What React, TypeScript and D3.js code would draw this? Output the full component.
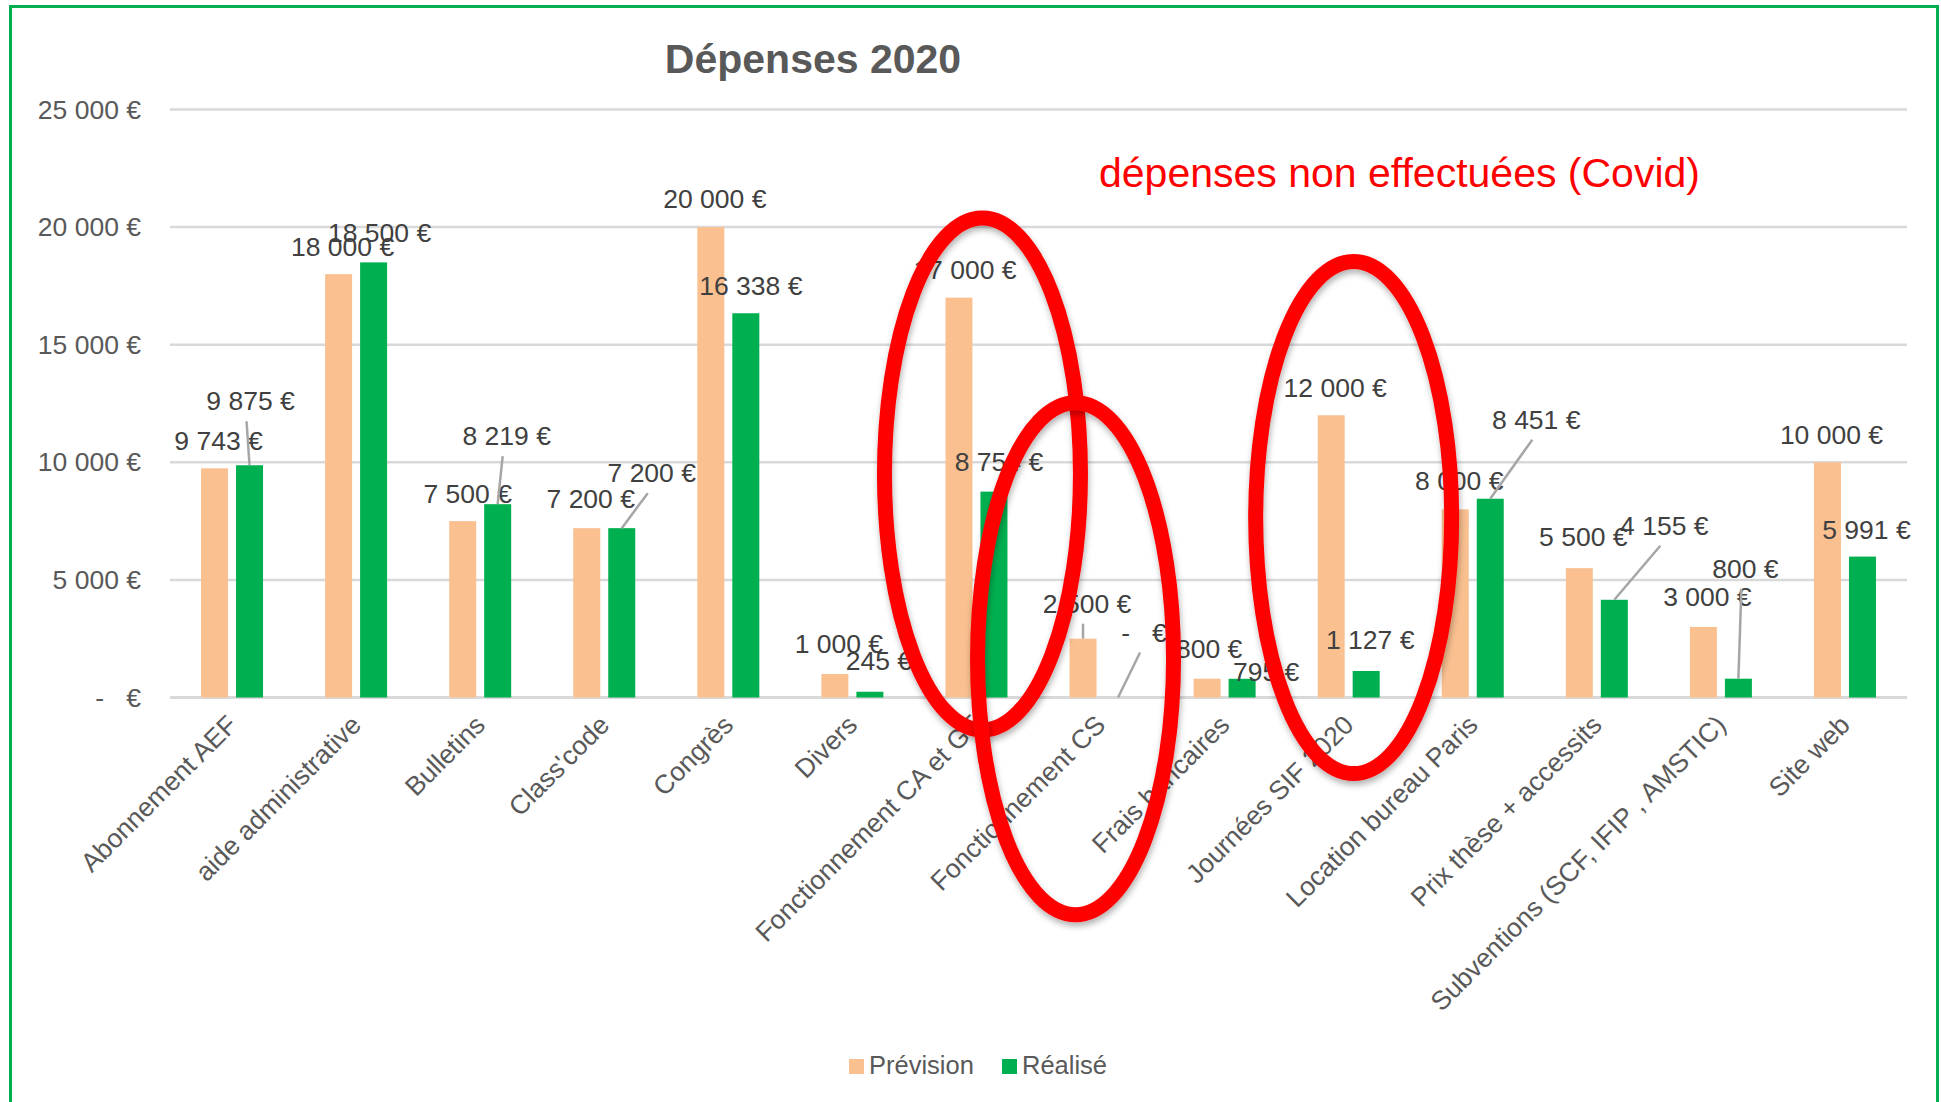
import React from "react";
import * as d3 from "d3";

const categories = [
  "Abonnement AEF",
  "aide administrative",
  "Bulletins",
  "Class'code",
  "Congrès",
  "Divers",
  "Fonctionnement CA et GT",
  "Fonctionnement CS",
  "Frais bancaires",
  "Journées SIF 2020",
  "Location bureau Paris",
  "Prix thèse + accessits",
  "Subventions (SCF, IFIP , AMSTIC)",
  "Site web",
];

const prevision = [9743, 18000, 7500, 7200, 20000, 1000, 17000, 2500, 800, 12000, 8000, 5500, 3000, 10000];
const realise = [9875, 18500, 8219, 7200, 16338, 245, 8754, 0, 795, 1127, 8451, 4155, 800, 5991];

const yTicks = [0, 5000, 10000, 15000, 20000, 25000];

const seriesNames = ["Prévision", "Réalisé"];

// where Excel put each data label, relative to the top centre of its bar
const prevLabelOffset = [
  [4, -27], [4, -27], [5, -27], [4, -29], [4, -28], [4, -30], [6, -28],
  [4, -35], [2, -30], [4, -27], [4, -28], [4, -31], [4, -30], [4, -27],
];
const realLabelOffset = [
  [1, -64], [6, -29], [9, -68], [30, -55], [5, -27], [9, -31], [5, -30],
  [26, -65], [24, -7], [4, -31], [46, -79], [50, -74], [7, -110], [4, -27],
];
const prevLeader = [false, false, false, false, false, false, false, true, false, false, false, false, false, false];
const realLeader = [true, false, true, true, false, false, false, true, false, false, true, true, true, false];

const annotation = "dépenses non effectuées (Covid)";
// red circles drawn around categories: [category index, centre value, x shift]
const circles = [
  { cat: 6, value: 9500, shift: 6 },
  { cat: 7, value: 1650, shift: -25 },
  { cat: 9, value: 7650, shift: 5 },
];

const W = 1941;
const H = 1102;
const FONT = "'Liberation Sans', Arial, sans-serif";

const euro = (v: number) =>
  v === 0 ? "-   €" : d3.format(",")(v).replace(/,/g, " ") + " €";

export default function App() {
  const x = d3.scaleBand<string>().domain(categories).range([170, 1907]);
  const inner = d3.scaleBand<string>().domain(seriesNames).range([-31, 31]).paddingInner(8 / 35);
  const y = d3.scaleLinear().domain([0, 25000]).range([697.5, 109.5]);
  const bw = x.bandwidth();

  const series = [
    { name: seriesNames[0], values: prevision, color: "#FAC090", offs: prevLabelOffset, leader: prevLeader },
    { name: seriesNames[1], values: realise, color: "#00B050", offs: realLabelOffset, leader: realLeader },
  ];

  return (
    <svg
      width={W}
      height={H}
      style={{ position: "absolute", left: 0, top: 0, background: "#fff" }}
      fontFamily={FONT}
    >
      <defs>
        <filter id="shadow" x="-20%" y="-20%" width="140%" height="140%">
          <feDropShadow dx="1" dy="4" stdDeviation="3" floodColor="#000" floodOpacity="0.3" />
        </filter>
      </defs>
      <rect x={0} y={0} width={W} height={H} fill="#fff" />
      <rect x={10.5} y={6.5} width={1927} height={1120} fill="none" stroke="#00B050" strokeWidth={3} />

      <text x={813} y={73} textAnchor="middle" fontSize={41} fontWeight="bold" fill="#595959">
        Dépenses 2020
      </text>

      {yTicks.map((t) => (
        <g key={t}>
          <line x1={170} x2={1907} y1={y(t)} y2={y(t)} stroke="#D9D9D9" strokeWidth={t === 0 ? 3 : 2.5} />
          <text x={141} y={y(t) + 9} textAnchor="end" fontSize={26.5} fill="#595959" style={{ whiteSpace: "pre" }}>
            {euro(t)}
          </text>
        </g>
      ))}

      {series.map((s) =>
        categories.map((c, i) => (
          <rect
            key={s.name + c}
            x={x(c)! + bw / 2 + inner(s.name)!}
            y={y(s.values[i])}
            width={inner.bandwidth()}
            height={y(0) - y(s.values[i])}
            fill={s.color}
          />
        ))
      )}

      {series.map((s) =>
        categories.map((c, i) => {
          const bx = x(c)! + bw / 2 + inner(s.name)! + inner.bandwidth() / 2;
          const by = y(s.values[i]);
          const lx = bx + s.offs[i][0];
          const ly = by + s.offs[i][1];
          return (
            <g key={"l" + s.name + c}>
              {s.leader[i] && (
                <line x1={lx - 4} y1={ly + 20} x2={bx} y2={by} stroke="#A6A6A6" strokeWidth={2.5} />
              )}
              <text x={lx} y={ly + 9} textAnchor="middle" fontSize={26.5} fill="#404040" style={{ whiteSpace: "pre" }}>
                {euro(s.values[i])}
              </text>
            </g>
          );
        })
      )}

      {categories.map((c) => (
        <text
          key={"c" + c}
          transform={`translate(${x(c)! + bw / 2},${720}) rotate(-45)`}
          textAnchor="end"
          dy="0.35em"
          fontSize={26.5}
          fill="#595959"
        >
          {c}
        </text>
      ))}

      <text x={1099} y={187} fontSize={41} fill="#FF0000">
        {annotation}
      </text>

      {circles.map((o) => (
        <ellipse
          key={"e" + o.cat}
          cx={x(categories[o.cat])! + bw / 2 + o.shift}
          cy={y(o.value)}
          rx={98}
          ry={256}
          fill="none"
          stroke="#FF0000"
          strokeWidth={15}
          filter="url(#shadow)"
        />
      ))}

      <g transform="translate(849,1059)">
        {series.map((s, i) => (
          <g key={"lg" + s.name} transform={`translate(${i * 153},0)`}>
            <rect x={0} y={0} width={15} height={15} fill={s.color} />
            <text x={20} y={15} fontSize={25.5} fill="#595959">
              {s.name}
            </text>
          </g>
        ))}
      </g>
    </svg>
  );
}
